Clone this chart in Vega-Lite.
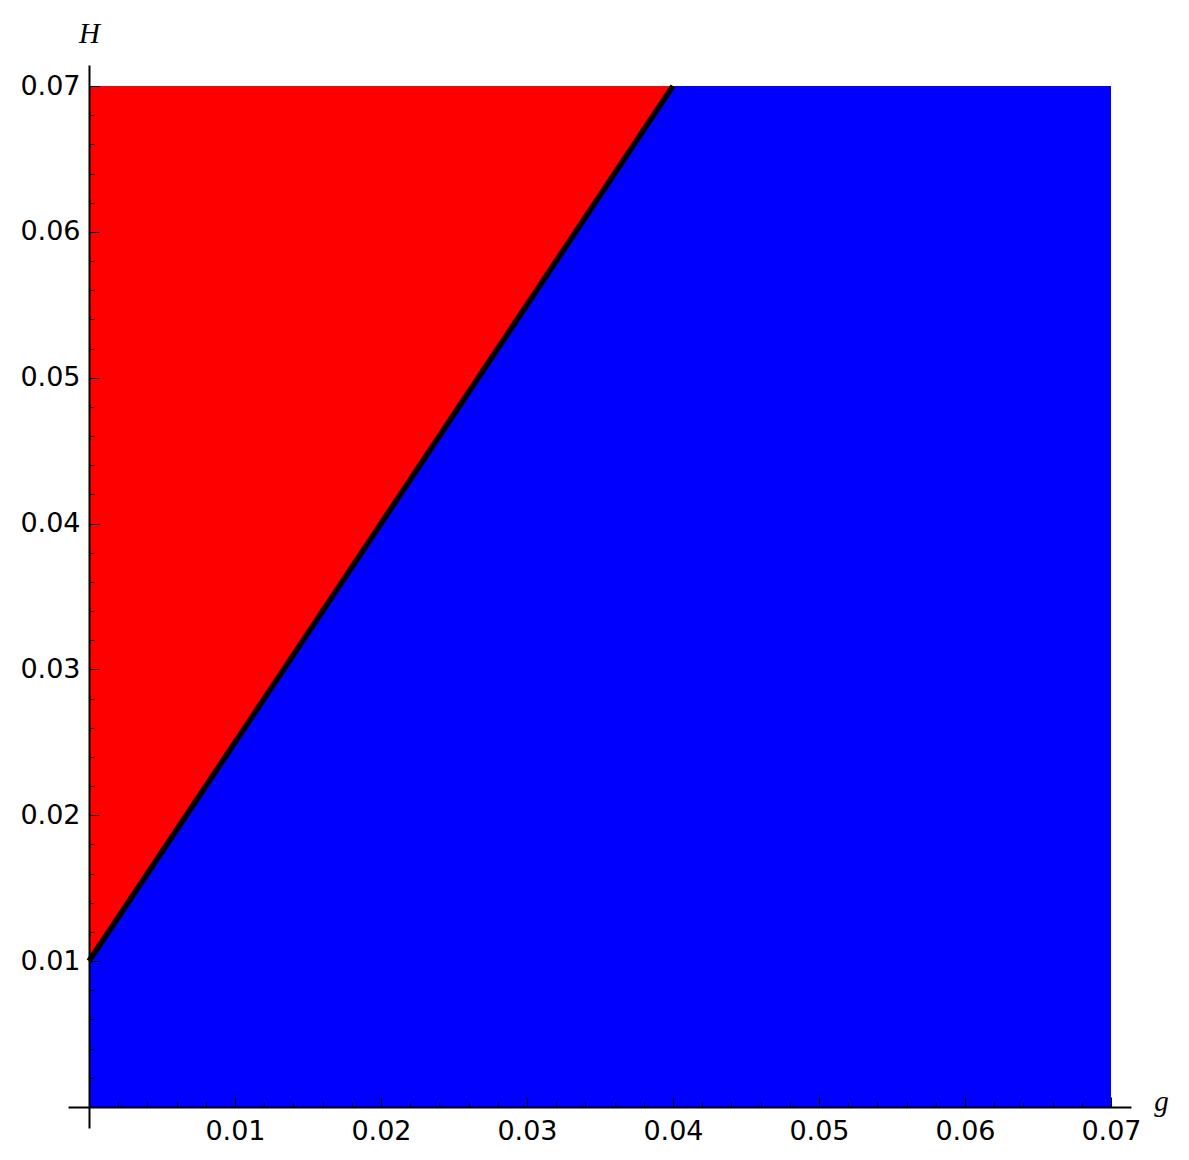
{
  "$schema": "https://vega.github.io/schema/vega-lite/v6.json",
  "width": 1063,
  "height": 1063,
  "autosize": {"type": "none"},
  "padding": {"left": 68, "top": 65, "right": 58, "bottom": 32},
  "config": {"view": {"stroke": null}},
  "encoding": {
    "x": {
      "field": "g", "type": "quantitative",
      "scale": {"domain": [-0.001438, 0.07137], "nice": false, "zero": false},
      "axis": {
        "title": "g", "titleFont": "Liberation Serif", "titleFontStyle": "italic", "titleFontWeight": "normal", "titleFontSize": 29,
        "titleX": 1093, "titleY": -6, "titleAlign": "center", "titleBaseline": "middle", "titleColor": "black",
        "offset": -21, "zindex": 1, "grid": false,
        "values": [0.002,0.004,0.006,0.008,0.01,0.012,0.014,0.016,0.018,0.02,0.022,0.024,0.026,0.028,0.03,0.032,0.034,0.036,0.038,0.04,0.042,0.044,0.046,0.048,0.05,0.052,0.054,0.056,0.058,0.06,0.062,0.064,0.066,0.068,0.07],
        "labelExpr": "abs(datum.value*100 - round(datum.value*100)) < 1e-6 ? format(datum.value, '.2f') : ''",
        "labelFont": "DejaVu Sans", "labelFontSize": 27, "labelColor": "black",
        "labelPadding": 21, "labelOverlap": false, "labelFlush": false, "labelBound": false,
        "tickSize": {"condition": {"test": "abs(datum.value*100 - round(datum.value*100)) < 1e-6", "value": -10}, "value": -5},
        "tickColor": "black", "tickWidth": 1,
        "domainColor": "black", "domainWidth": 2
      }
    },
    "y": {
      "field": "H", "type": "quantitative",
      "scale": {"domain": [-0.00144, 0.07144], "nice": false, "zero": false},
      "axis": {
        "title": "H", "titleFont": "Liberation Serif", "titleFontStyle": "italic", "titleFontWeight": "normal", "titleFontSize": 29,
        "titleX": 0, "titleY": -32, "titleAngle": 0, "titleAlign": "center", "titleBaseline": "middle", "titleColor": "black",
        "offset": -21, "zindex": 1, "grid": false,
        "values": [0.002,0.004,0.006,0.008,0.01,0.012,0.014,0.016,0.018,0.02,0.022,0.024,0.026,0.028,0.03,0.032,0.034,0.036,0.038,0.04,0.042,0.044,0.046,0.048,0.05,0.052,0.054,0.056,0.058,0.06,0.062,0.064,0.066,0.068,0.07],
        "labelExpr": "abs(datum.value*100 - round(datum.value*100)) < 1e-6 ? format(datum.value, '.2f') : ''",
        "labelFont": "DejaVu Sans", "labelFontSize": 27, "labelColor": "black",
        "labelPadding": 19, "labelOverlap": false, "labelFlush": false, "labelBound": false,
        "tickSize": {"condition": {"test": "abs(datum.value*100 - round(datum.value*100)) < 1e-6", "value": -10}, "value": -5},
        "tickColor": "black", "tickWidth": 1,
        "domainColor": "black", "domainWidth": 2
      }
    }
  },
  "layer": [
    {
      "data": {"values": [{"g": 0, "g2": 0.07, "H": 0, "H2": 0.07}]},
      "mark": {"type": "rect", "color": "#0000ff"},
      "encoding": {"x2": {"field": "g2"}, "y2": {"field": "H2"}}
    },
    {
      "data": {"values": [{"g": 0, "H": 0.01, "H2": 0.07}, {"g": 0.04, "H": 0.07, "H2": 0.07}]},
      "mark": {"type": "area", "color": "#ff0000"},
      "encoding": {"y2": {"field": "H2"}}
    },
    {
      "data": {"values": [{"g": 0, "H": 0.01}, {"g": 0.04, "H": 0.07}]},
      "mark": {"type": "line", "color": "black", "strokeWidth": 5.5},
      "encoding": {}
    }
  ]
}
